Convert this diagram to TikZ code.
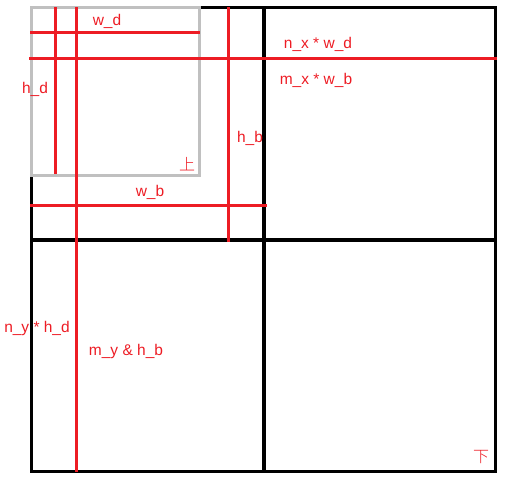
\documentclass[tikz,border=0pt]{standalone}
\usepackage{fontspec}
\setmainfont{Liberation Sans}
\newfontfamily\cjk{Noto Sans CJK SC Light}
\definecolor{lred}{RGB}{237,28,36}
\definecolor{lgray}{RGB}{192,192,192}
\begin{document}
\begin{tikzpicture}[x=1pt,y=-1pt,
  blk/.style={draw=black,line width=3pt},
  gry/.style={draw=lgray,line width=3pt},
  rd/.style={draw=lred,line width=3pt},
  lbl/.style={text=lred,font=\fontsize{15.5pt}{17pt}\selectfont,inner sep=0pt},
  cjklbl/.style={lbl,font=\cjk\fontsize{16pt}{18pt}\selectfont}]
\useasboundingbox (0,0) rectangle (506,480);
% black grid
\draw[blk] (31,7) rectangle (495,471);
\draw[blk,line width=3.5pt] (264,7) -- (264,471);
\draw[blk,line width=3.5pt] (31,240) -- (495,240);
% gray box
\draw[gry] (31,7) rectangle (199,175);
% red lines
\coordinate (v1a) at (55,7);   \coordinate (v1b) at (55,174);
\coordinate (v2a) at (76,7);   \coordinate (v2b) at (76,472);
\coordinate (v3a) at (228,7);  \coordinate (v3b) at (228,242);
\coordinate (h1a) at (30,32);  \coordinate (h1b) at (200,32);
\coordinate (h2a) at (29,58);  \coordinate (h2b) at (497,58);
\coordinate (h3a) at (30,205); \coordinate (h3b) at (267,205);
\draw[rd] (v1a) -- (v1b);
\draw[rd] (v2a) -- (v2b);
\draw[rd] (v3a) -- (v3b);
\draw[rd] (h1a) -- (h1b);
\draw[rd] (h2a) -- (h2b);
\draw[rd] (h3a) -- (h3b);
% labels
\node[lbl] (wd) at (107,21) {w\_d};
\node[lbl] (hd) at (35,89) {h\_d};
\node[lbl] (hb) at (250,138) {h\_b};
\node[lbl] (wb) at (150,192) {w\_b};
\node[cjklbl] (up) at (187,164) {上};
\node[lbl] (nxwd) at (318,44) {n\_x * w\_d};
\node[lbl] (mxwb) at (316,80) {m\_x * w\_b};
\node[lbl] (nyhd) at (37,328) {n\_y * h\_d};
\node[lbl] (myhb) at (126,351) {m\_y \& h\_b};
\node[cjklbl] (down) at (481,457) {下};
\end{tikzpicture}
\end{document}
